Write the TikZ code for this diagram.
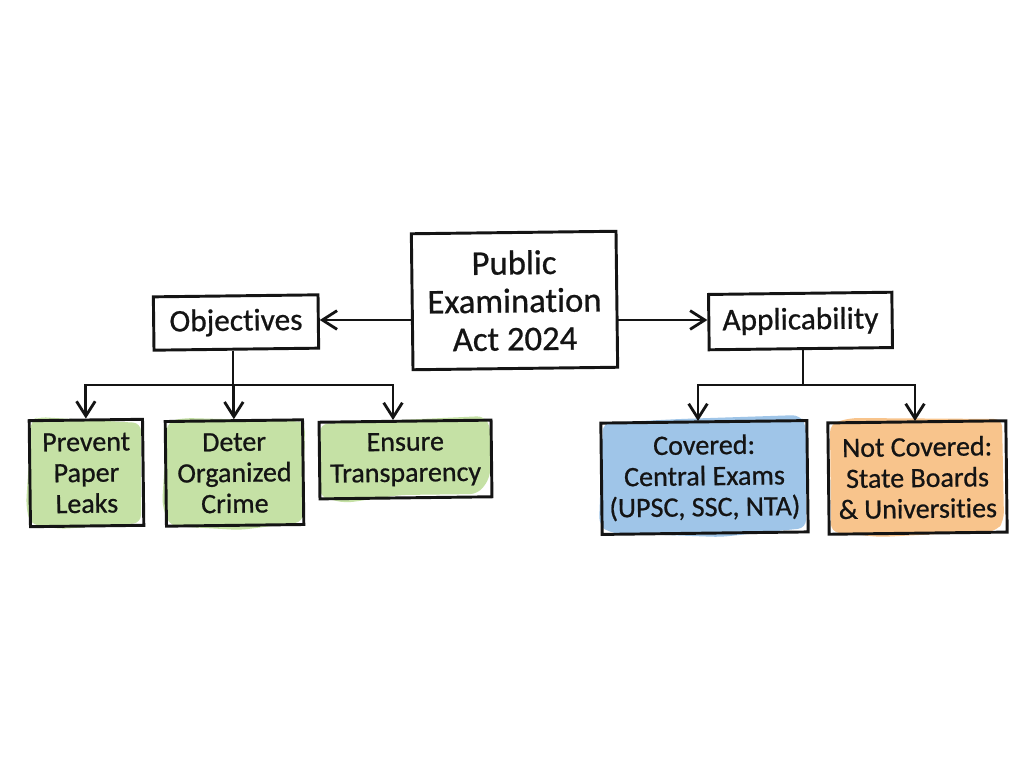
\documentclass[tikz,border=0pt]{standalone}
\usepackage{fontspec}
\setmainfont{Carlito}[Ligatures=NoCommon,RawFeature={embolden=0.7}]
\usetikzlibrary{arrows.meta}
\definecolor{inkc}{HTML}{141414}
\definecolor{greenw}{HTML}{C5E1A5}
\definecolor{bluew}{HTML}{9FC5E8}
\definecolor{orangew}{HTML}{F8C48C}
\tikzset{
  box/.style={draw=inkc,line width=2.2pt,rectangle,inner sep=0pt,align=center,text=inkc,rotate=0.7,font=\fontsize{21}{23.2}\selectfont},
  headbox/.style={box,font=\fontsize{23.5}{26}\selectfont},
  mainbox/.style={box,font=\fontsize{26}{28.5}\selectfont},
  widebox/.style={box,font=\fontsize{21.1}{23.2}\selectfont},
  link/.style={draw=inkc,line width=2.1pt},
  arrowed/.style={link,-{Straight Barb[length=11pt,width=14pt,line width=2.1pt]}},
  wash/.style={rounded corners=6pt,draw=none}
}
\begin{document}
\begin{tikzpicture}[x=0.75pt,y=-0.75pt]
\useasboundingbox (0,0) rectangle (1024,768);
\fill[white] (0,0) rectangle (1024,768);
% colour washes
\fill[greenw,wash] (38,417) -- (55,418) -- (141,423) -- (141,523) -- (60,529) -- (30,524) -- (26,505) -- (31,430) -- (30,421) -- cycle;
\fill[greenw,wash] (168,421) -- (185,418) -- (298,421) -- (305,424) -- (303,522) -- (240,530) -- (170,526) -- (162,505) -- (167,430) -- cycle;
\fill[greenw,wash] (320,424) -- (400,420) -- (485,416) -- (491,430) -- (490,478) -- (478,494) -- (400,495) -- (345,503) -- (320,497) -- cycle;
\fill[bluew,wash] (603,423) -- (680,419) -- (800,415) -- (806,425) -- (806,528) -- (720,537) -- (610,533) -- (599,525) -- (601,470) -- cycle;
\fill[orangew,wash] (830,424) -- (850,418) -- (1002,419) -- (1004,520) -- (997,531) -- (880,537) -- (831,532) -- cycle;
% boxes
\node[mainbox,minimum width=153.5pt,minimum height=102pt] (main) at (514.5,300.5) {Public\\Examination\\Act 2024};
\node[headbox,minimum width=123.5pt,minimum height=40pt] (obj) at (236,322.5) {Objectives};
\node[headbox,minimum width=137.5pt,minimum height=41.5pt] (app) at (800.5,321) {Applicability};
\node[box,minimum width=85pt,minimum height=79.5pt] (leaks) at (86.5,473) {Prevent\\Paper\\Leaks};
\node[box,minimum width=103pt,minimum height=78.5pt] (crime) at (234.5,473) {Deter\\Organized\\Crime};
\node[box,minimum width=129pt,minimum height=57.5pt] (trans) at (405.5,459.5) {Ensure\\Transparency};
\node[widebox,minimum width=154.5pt,minimum height=83.5pt] (cov) at (704.5,477.5) {Covered:\\Central Exams\\(UPSC, SSC, NTA)};
\node[box,minimum width=133.5pt,minimum height=83.5pt] (notcov) at (917.5,477.5) {Not Covered:\\State Boards\\\& Universities};
% junctions and arrow ends on the box tops
\coordinate (objj) at (233,385);
\coordinate (appj) at (803,385);
\coordinate (transtop) at (393,420);
\coordinate (covtop) at (698,421);
\coordinate (notcovtop) at (915,421);
% connectors
\draw[arrowed] (main.west |- 0,320) -- (obj.east |- 0,320);
\draw[arrowed] (main.east |- 0,320) -- (app.west |- 0,320);
\draw[link] (obj.south -| objj) -- (objj);
\draw[link] (appj |- app.south) -- (appj);
\draw[arrowed] (objj) -| (leaks.north);
\draw[arrowed] (objj) -| (crime.north);
\draw[arrowed] (objj) -| (transtop);
\draw[arrowed] (appj) -| (covtop);
\draw[arrowed] (appj) -| (notcovtop);
\end{tikzpicture}
\end{document}
